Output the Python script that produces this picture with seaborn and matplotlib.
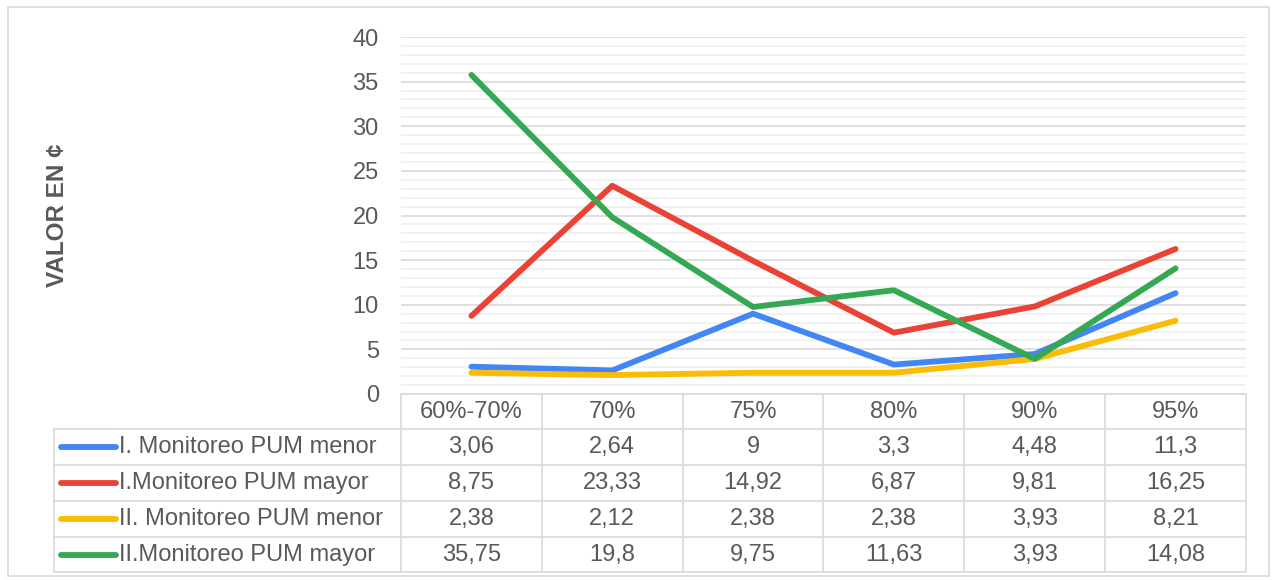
import pandas as pd
import numpy as np
import seaborn as sns
import matplotlib.pyplot as plt
from matplotlib.ticker import MultipleLocator
from matplotlib.lines import Line2D
from matplotlib.patches import Rectangle
import matplotlib.transforms as mtransforms

categorias = ["60%-70%", "70%", "75%", "80%", "90%", "95%"]
series = ["I. Monitoreo PUM menor", "I.Monitoreo PUM mayor",
          "II. Monitoreo PUM menor", "II.Monitoreo PUM mayor"]
pum_menor_1 = [3.06, 2.64, 9, 3.3, 4.48, 11.3]
pum_mayor_1 = [8.75, 23.33, 14.92, 6.87, 9.81, 16.25]
pum_menor_2 = [2.38, 2.12, 2.38, 2.38, 3.93, 8.21]
pum_mayor_2 = [35.75, 19.8, 9.75, 11.63, 3.93, 14.08]
etiquetas = [["3,06", "2,64", "9", "3,3", "4,48", "11,3"],
             ["8,75", "23,33", "14,92", "6,87", "9,81", "16,25"],
             ["2,38", "2,12", "2,38", "2,38", "3,93", "8,21"],
             ["35,75", "19,8", "9,75", "11,63", "3,93", "14,08"]]
colores = ["#4285F4", "#EA4335", "#FBBC04", "#34A853"]

valores = [pum_menor_1, pum_mayor_1, pum_menor_2, pum_mayor_2]
df = pd.DataFrame({
    "categoria": categorias * len(series),
    "serie": np.repeat(series, len(categorias)),
    "valor": np.concatenate(valores),
})

sns.set_style("white")
plt.rcParams["font.family"] = ["Liberation Sans", "DejaVu Sans"]
gris = "#595959"
linea = "#d9d9d9"
fs = 17

W, H = 1273, 580
fig = plt.figure(figsize=(W / 100, H / 100), dpi=100)
ax = fig.add_axes([401 / W, 1 - 394 / H, 845 / W, 357 / H])

sns.lineplot(data=df, x="categoria", y="valor", hue="serie", palette=colores,
             linewidth=4.2, sort=False, legend=False, ax=ax,
             solid_capstyle="round", solid_joinstyle="round")

ax.set_xlim(-0.5, len(categorias) - 0.5)
ax.set_ylim(0, 40)
ax.yaxis.set_major_locator(MultipleLocator(5))
ax.yaxis.set_minor_locator(MultipleLocator(1))
ax.grid(which="major", axis="y", color=linea, lw=1.2, zorder=0)
ax.grid(which="minor", axis="y", color="#f0f0f0", lw=1.2, zorder=0)
ax.set_axisbelow(True)
for s in ax.spines.values():
    s.set_visible(False)
ax.set_xticks([])
ax.set_xlabel("")
ax.set_ylabel("")
ax.tick_params(axis="y", which="both", length=0, pad=16, labelsize=fs, labelcolor=gris)

fig.text(58 / W, 1 - 215 / H, "VALOR EN ¢", rotation=90, ha="center", va="center",
         fontsize=17.5, fontweight="bold", color=gris)

# data table below the plot
tr = mtransforms.blended_transform_factory(ax.transData, fig.transFigure)
def fy(p):
    return 1 - p / H
def fx(p):
    return p / W

filas = [394, 429, 465, 501, 537, 572]
x_izq, x_tab, x_der = 54, 401, 1246
lkw = dict(color=linea, lw=1.2)
fig.add_artist(Line2D([fx(x_tab), fx(x_der)], [fy(filas[0])] * 2, **lkw))
for y in filas[1:]:
    fig.add_artist(Line2D([fx(x_izq), fx(x_der)], [fy(y)] * 2, **lkw))
fig.add_artist(Line2D([fx(x_izq)] * 2, [fy(filas[1]), fy(filas[-1])], **lkw))
for i in range(len(categorias) + 1):
    fig.add_artist(Line2D([i - 0.5] * 2, [fy(filas[0]), fy(filas[-1])],
                          transform=tr, **lkw))

for i, c in enumerate(categorias):
    fig.text(i, fy((filas[0] + filas[1]) / 2), c, transform=tr, ha="center",
             va="center", fontsize=fs, color=gris)

for r, (nombre, col, labs) in enumerate(zip(series, colores, etiquetas)):
    yc = fy((filas[r + 1] + filas[r + 2]) / 2)
    fig.add_artist(Line2D([fx(61), fx(116)], [yc, yc], color=col, lw=4.2,
                          solid_capstyle="round"))
    fig.text(fx(119), yc, nombre, ha="left", va="center", fontsize=fs, color=gris)
    for i, t in enumerate(labs):
        fig.text(i, yc, t, transform=tr, ha="center", va="center",
                 fontsize=fs, color=gris)

# chart border
fig.add_artist(Rectangle((fx(8), fy(576)), fx(1261), 569 / H, fill=False,
                         edgecolor=linea, lw=1.2, transform=fig.transFigure))

fig.savefig("out.png", dpi=100)
